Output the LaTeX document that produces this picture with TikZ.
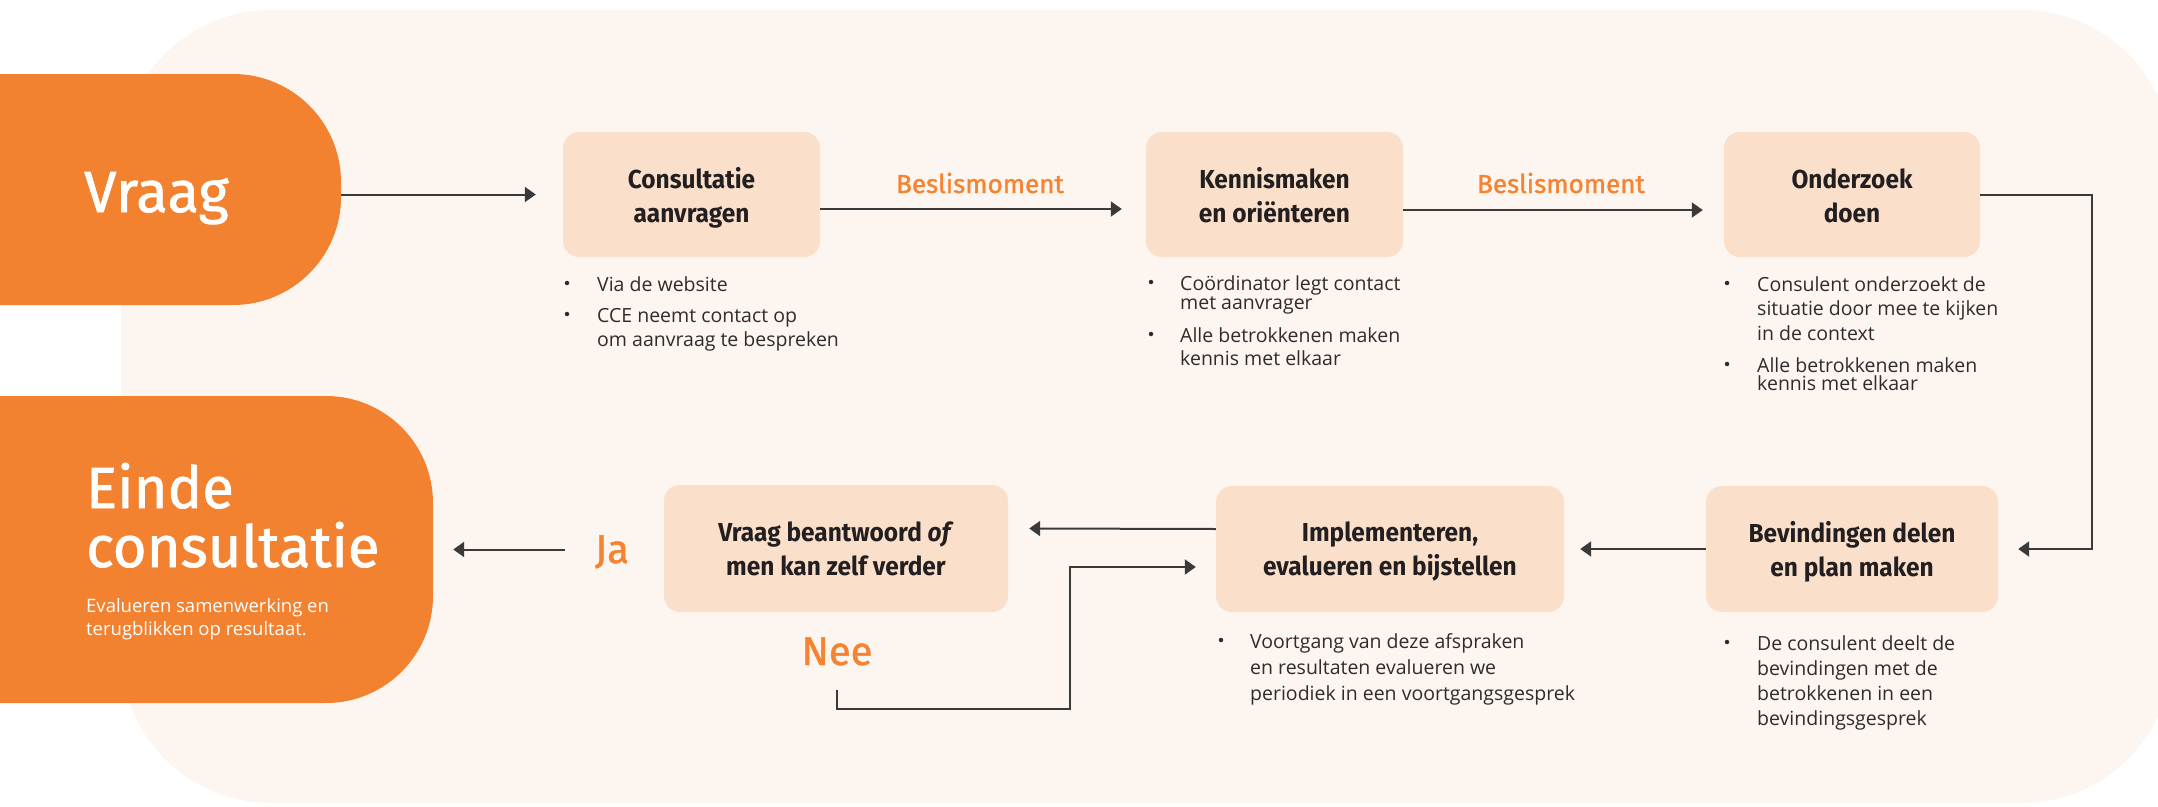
\documentclass[tikz,border=0pt]{standalone}
\usepackage{fontspec}
\setmainfont{Open Sans}
\newfontfamily\headfont{Fira Sans}[FakeStretch=0.94]
\newfontfamily\medfont{Fira Sans}[FakeBold=1.2]
\usetikzlibrary{arrows.meta}
\definecolor{orangeF}{HTML}{F38230}
\definecolor{orangeT}{HTML}{F5832F}
\definecolor{peach}{HTML}{FADFCA}
\definecolor{panelc}{HTML}{FDF5F0}
\definecolor{darkc}{HTML}{231F20}
\definecolor{bodyc}{HTML}{2E2C2C}
\definecolor{linec}{HTML}{3A3A3A}
\begin{document}
\begin{tikzpicture}[x=1pt,y=-1pt,
  stepbox/.style={rectangle, rounded corners=16pt, fill=peach, inner sep=0pt},
  bigbox/.style={rectangle, fill=orangeF, inner sep=0pt},
  title/.style={font=\headfont\bfseries\fontsize{26}{34}\selectfont, align=center, inner sep=0pt, text=darkc, anchor=base},
  bigtitle/.style={font=\medfont\fontsize{58}{59}\selectfont, align=left, inner sep=0pt, text=white, anchor=base west},
  bul/.style={font=\fontsize{19.5}{24}\selectfont, align=left, inner sep=0pt, text=bodyc, anchor=base west},
  dot/.style={circle, fill=bodyc, inner sep=0pt, minimum size=4.5pt},
  olabel/.style={font=\medfont\fontsize{26}{30}\selectfont, text=orangeT, inner sep=0pt, anchor=base},
  jlabel/.style={font=\medfont\fontsize{40}{44}\selectfont, text=orangeT, inner sep=0pt, anchor=base},
  arr/.style={draw=linec, line width=2pt, -{Triangle[length=11pt,width=15pt]}}
]
\useasboundingbox (0,0) rectangle (2158,806);
\clip (0,0) rectangle (2158,806);
% background panel
\path[fill=panelc, rounded corners=150pt] (121,10) rectangle (2172,803);

% big orange shapes
\node[bigbox, rounded corners=108pt, minimum width=541pt, minimum height=231pt] (vraag) at (70.5,189.5) {};
\node[bigtitle] (vraagt) at (84,212) {Vraag};
\node[bigbox, rounded corners=107pt, minimum width=633pt, minimum height=307pt] (einde) at (116.5,549.5) {};
\node[bigtitle] (eindet) at (86,567) {Einde\\consultatie};
\node[bul, text=white, font=\fontsize{18.5}{23}\selectfont] (eindes) at (86,635) {Evalueren samenwerking en\\terugblikken op resultaat.};

% step boxes
\node[stepbox, minimum width=257pt, minimum height=125pt] (cons) at (691.5,194.5) {};
\node[stepbox, minimum width=257pt, minimum height=125pt] (kenn) at (1274.5,194.5) {};
\node[stepbox, minimum width=256pt, minimum height=125pt] (onder) at (1852,194.5) {};
\node[stepbox, minimum width=292pt, minimum height=126pt] (bev) at (1852,549) {};
\node[stepbox, minimum width=348pt, minimum height=126pt] (impl) at (1390,549) {};
\node[stepbox, minimum width=344pt, minimum height=127pt] (vrb) at (836,548.5) {};

% titles (anchor = baseline of last line)
\node[title] (consT) at (691.5,222) {Consultatie\\aanvragen};
\node[title] (kennT) at (1274.5,222) {Kennismaken\\en oriënteren};
\node[title] (onderT) at (1852,222) {Onderzoek\\doen};
\node[title] (bevT) at (1852,576) {Bevindingen delen\\en plan maken};
\node[title] (implT) at (1390,575) {Implementeren,\\evalueren en bijstellen};
\node[title] (vrbT) at (836,575) {Vraag beantwoord \textit{of}\\men kan zelf verder};

% labels
\node[olabel] (bes1) at (980,193) {Beslismoment};
\node[olabel] (bes2) at (1561,193) {Beslismoment};
\node[jlabel] (ja) at (612,563) {Ja};
\node[jlabel] (nee) at (837,665) {Nee};

% bullets (anchor = baseline of last line)
\node[dot] (d1) at (567,283) {};
\node[bul] (b1) at (597,291) {Via de website};
\node[dot] (d2) at (567,314) {};
\node[bul] (b2) at (597,346) {CCE neemt contact op\\om aanvraag te bespreken};

\node[dot] (d3) at (1151,282) {};
\node[bul, font=\fontsize{19.5}{19}\selectfont] (b3) at (1180,309) {Coördinator legt contact\\met aanvrager};
\node[dot] (d4) at (1151,334) {};
\node[bul, font=\fontsize{19.5}{23}\selectfont] (b4) at (1180,365) {Alle betrokkenen maken\\kennis met elkaar};

\node[dot] (d5) at (1727,283) {};
\node[bul, font=\fontsize{19.5}{24.5}\selectfont] (b5) at (1757,340) {Consulent onderzoekt de\\situatie door mee te kijken\\in de context};
\node[dot] (d6) at (1727,364) {};
\node[bul, font=\fontsize{19.5}{18}\selectfont] (b6) at (1757,390) {Alle betrokkenen maken\\kennis met elkaar};

\node[dot] (d7) at (1727,642) {};
\node[bul, font=\fontsize{19.5}{25}\selectfont] (b7) at (1757,725) {De consulent deelt de\\bevindingen met de\\betrokkenen in een\\bevindingsgesprek};

\node[dot] (d8) at (1221,640) {};
\node[bul, font=\fontsize{19.5}{26}\selectfont] (b8) at (1250,700) {Voortgang van deze afspraken\\en resultaten evalueren we\\periodiek in een voortgangsgesprek};

% connectors
\draw[arr] (vraag.east |- cons.center) -- ([xshift=-27pt]cons.west);
\draw[arr] ([yshift=-14.5pt]cons.east) -- ([xshift=-24pt,yshift=-14.5pt]kenn.west);
\draw[arr] ([yshift=-15.5pt]kenn.east) -- ([xshift=-21pt,yshift=-15.5pt]onder.west);
\draw[arr] (onder.east) -- ++(112,0) |- ([xshift=20pt]bev.east);
\draw[arr] (bev.west) -- ([xshift=16pt]impl.east);
\draw[arr] ([yshift=20pt]impl.west) -- ([xshift=21pt,yshift=20pt]vrb.east);
\draw[arr] ([yshift=-24pt]nee.south) -- ++(0,19) -- ++(233,0) |- ([xshift=-20pt,yshift=-18pt]impl.west);
\draw[arr] ([xshift=-30pt]ja.west |- einde.east) -- ([xshift=20pt]einde.east);
\end{tikzpicture}
\end{document}
